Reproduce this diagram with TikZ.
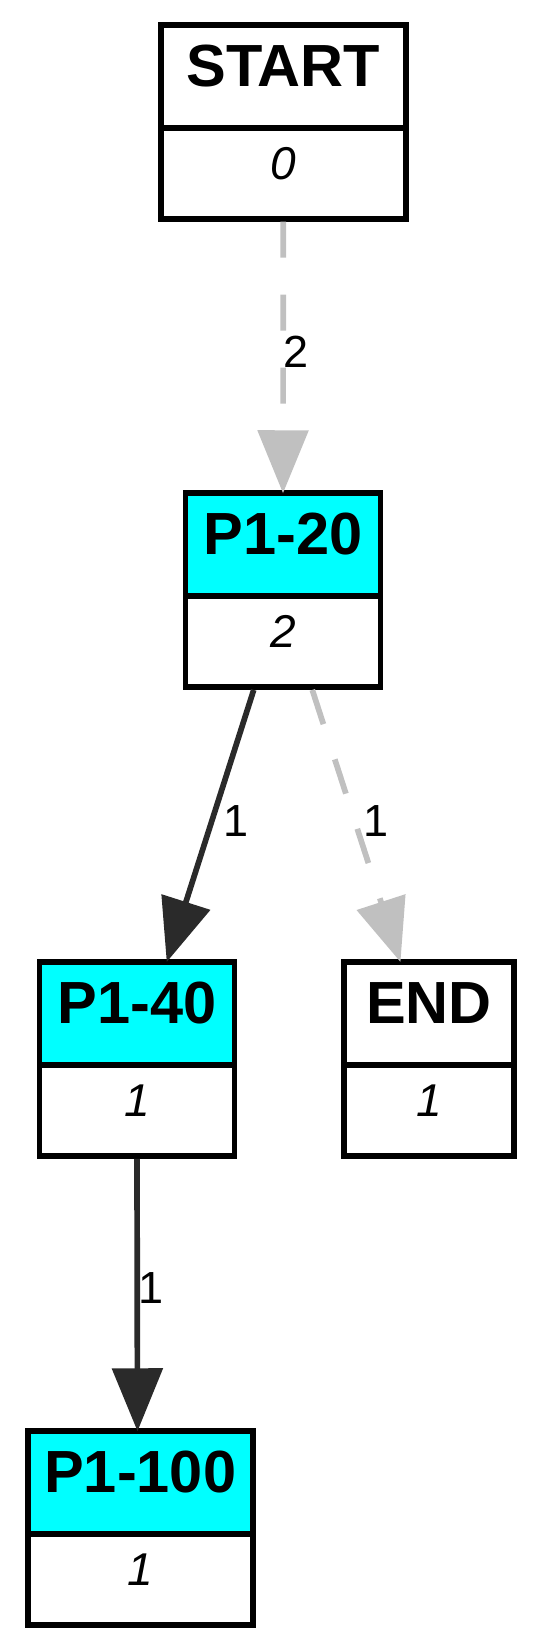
\documentclass[tikz,border=0pt]{standalone}
\usepackage{fontspec}
\setmainfont{Liberation Sans}
\usetikzlibrary{arrows.meta,positioning}
\definecolor{boxcyan}{HTML}{00FFFF}
\definecolor{edgedark}{HTML}{2A2A2A}
\definecolor{edgegray}{HTML}{C0C0C0}
\begin{document}
\begin{tikzpicture}[>={Triangle[length=31.5pt,width=25pt]},x=0.5pt,y=-0.5pt,
    hd/.style={draw,line width=2.85pt,outer sep=0pt,inner sep=0pt,minimum height=51.5pt,
      text height=21.3pt,text depth=11.5pt,font=\fontsize{29.75}{31}\selectfont\bfseries},
    ct/.style={draw,line width=2.85pt,outer sep=0pt,inner sep=0pt,minimum height=45.5pt,
      text height=16.4pt,text depth=10.2pt,font=\fontsize{23}{25}\selectfont\itshape},
    lb/.style={inner sep=0pt,font=\fontsize{22.5}{24}\selectfont},
    dk/.style={->,draw=edgedark,line width=2.85pt,shorten <=1.4pt},
    gr/.style={->,draw=edgegray,line width=2.85pt,shorten <=1.4pt,dash pattern=on 18pt off 18.5pt}]
    \useasboundingbox (0,0) rectangle (539,1650);
    % boxes
    \node[hd,minimum width=122.5pt] (start) at (283.3,76.25) {START};
    \node[ct,minimum width=122.5pt,below=0pt of start] (startc) {0};
    \node[hd,fill=boxcyan,minimum width=97.5pt] (p20) at (283,544.75) {P1-20};
    \node[ct,minimum width=97.5pt,below=0pt of p20] (p20c) {2};
    \node[hd,fill=boxcyan,minimum width=97.5pt] (p40) at (137,1013.5) {P1-40};
    \node[ct,minimum width=97.5pt,below=0pt of p40] (p40c) {1};
    \node[hd,minimum width=85.25pt] (end) at (429,1013.5) {END};
    \node[ct,minimum width=85.25pt,below=0pt of end] (endc) {1};
    \node[hd,fill=boxcyan,minimum width=112.5pt] (p100) at (140.2,1482.75) {P1-100};
    \node[ct,minimum width=112.5pt,below=0pt of p100] (p100c) {1};
    % edges
    \draw[gr] (startc.south)--(p20.north);
    \draw[dk] (p20c.-122.5)--(p40.60.6);
    \draw[gr] (p20c.-58.3)--(end.119.5);
    \draw[dk] (p40c.south)--(p100.93.5);
    \node[lb] (l1) at (296,352) {2};
    \node[lb] (l2) at (236,821) {1};
    \node[lb] (l3) at (376,821) {1};
    \node[lb] (l4) at (151,1288) {1};
\end{tikzpicture}
\end{document}
